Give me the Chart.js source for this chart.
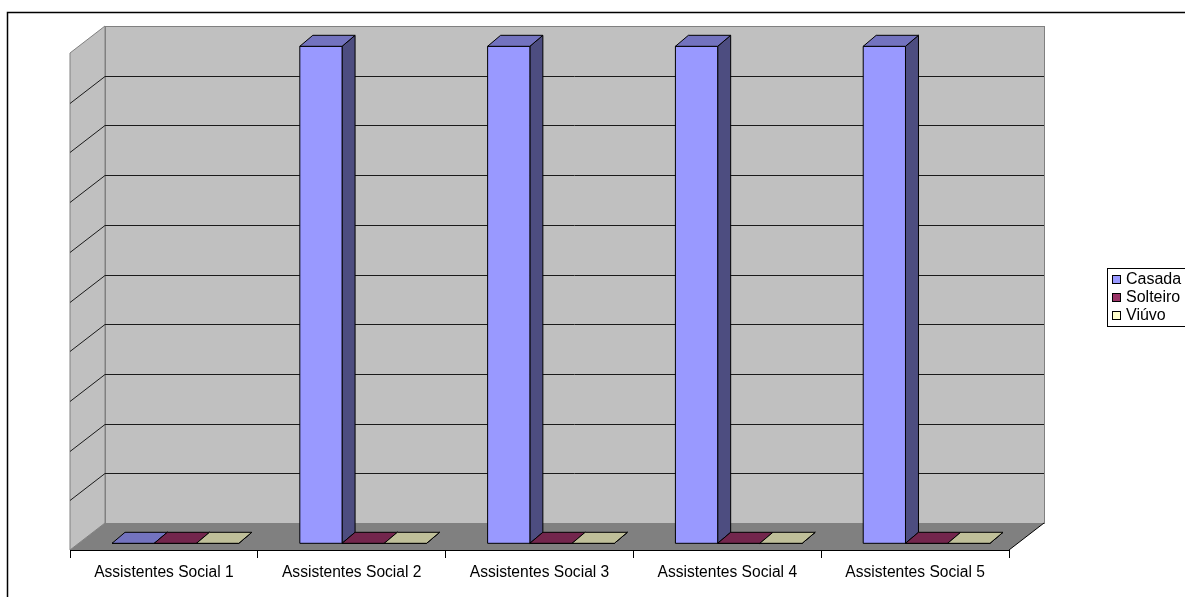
<!DOCTYPE html>
<html>
<head>
<meta charset="utf-8">
<script src="https://cdn.jsdelivr.net/npm/chart.js@4/dist/chart.umd.min.js"></script>
<style>
  body { margin: 0; background: #fff; }
  canvas { display: block; }
</style>
</head>
<body>
<canvas id="estadoCivil" width="1185" height="597"></canvas>
<script>
// data
const categorias = ["Assistentes Social 1", "Assistentes Social 2", "Assistentes Social 3", "Assistentes Social 4", "Assistentes Social 5"];
const casada = [0, 1, 1, 1, 1];
const solteiro = [0, 0, 0, 0, 0];
const viuvo = [0, 0, 0, 0, 0];
const yMax = 1;
const yStep = 0.1;

// cores: frente, topo, lado
const cores = {
  Casada: ["#9999FF", "#7373BF", "#4D4D80"],
  Solteiro: ["#993366", "#73264D", "#4D1933"],
  "Viúvo": ["#FFFFCC", "#BFBF99", "#80806A"]
};

const FONT = "'Liberation Sans', Arial, sans-serif";
const depthX = 35, depthY = 27;     // profundidade da parede
const barOffX = 11.5, barOffY = 6.7; // frente da barra
const barDX = 13, barDY = 11;        // profundidade da barra

const walls = {
  id: 'walls',
  beforeDraw(chart) {
    const ctx = chart.ctx;
    const a = chart.chartArea;
    const ys = chart.scales.y;
    const L = a.left, R = a.right, T = a.top, B = a.bottom;
    ctx.save();
    ctx.fillStyle = '#fff';
    ctx.fillRect(0, 0, chart.width, chart.height);
    ctx.strokeStyle = '#000';
    ctx.lineWidth = 1.5;
    ctx.strokeRect(7.5, 12.5, 1300, 700);

    ctx.lineWidth = 1;
    // parede esquerda
    ctx.beginPath();
    ctx.moveTo(L, T); ctx.lineTo(L + depthX, T - depthY);
    ctx.lineTo(L + depthX, B - depthY); ctx.lineTo(L, B); ctx.closePath();
    ctx.fillStyle = '#C0C0C0'; ctx.fill();
    ctx.strokeStyle = '#808080'; ctx.stroke();
    // parede do fundo
    ctx.fillRect(L + depthX, T - depthY, R - L, B - T);
    ctx.strokeRect(L + depthX + 0.5, T - depthY + 0.5, R - L, B - T);
    // chao
    ctx.beginPath();
    ctx.moveTo(L, B); ctx.lineTo(R, B);
    ctx.lineTo(R + depthX, B - depthY); ctx.lineTo(L + depthX, B - depthY); ctx.closePath();
    ctx.fillStyle = '#808080'; ctx.fill();
    ctx.strokeStyle = '#000';
    ctx.beginPath();
    ctx.moveTo(R, B); ctx.lineTo(R + depthX, B - depthY);
    ctx.stroke();

    // linhas de grade
    for (let v = yStep; v < yMax - 1e-6; v += yStep) {
      const y = Math.round(ys.getPixelForValue(v)) + 0.5;
      ctx.strokeStyle = '#1a1a1a';
      ctx.beginPath();
      ctx.moveTo(L, y); ctx.lineTo(L + depthX, y - depthY);
      ctx.lineTo(R + depthX, y - depthY);
      ctx.stroke();
    }
    ctx.restore();
  },
  afterDatasetsDraw(chart) {
    const ctx = chart.ctx;
    ctx.save();
    ctx.lineWidth = 1;
    ctx.strokeStyle = '#000';
    ctx.lineJoin = 'round';
    chart.data.datasets.forEach(function(ds, i) {
      const c = cores[ds.label];
      chart.getDatasetMeta(i).data.forEach(function(el) {
        const x0 = el.x - el.width / 2 + barOffX;
        const x1 = el.x + el.width / 2 + barOffX;
        const top = el.y - barOffY;
        const bot = el.base - barOffY;
        // lado
        ctx.beginPath();
        ctx.moveTo(x1, top); ctx.lineTo(x1 + barDX, top - barDY);
        ctx.lineTo(x1 + barDX, bot - barDY); ctx.lineTo(x1, bot); ctx.closePath();
        ctx.fillStyle = c[2]; ctx.fill(); ctx.stroke();
        // frente
        ctx.beginPath();
        ctx.rect(x0, top, x1 - x0, bot - top);
        ctx.fillStyle = c[0]; ctx.fill(); ctx.stroke();
        // topo
        ctx.beginPath();
        ctx.moveTo(x0, top); ctx.lineTo(x0 + barDX, top - barDY);
        ctx.lineTo(x1 + barDX, top - barDY); ctx.lineTo(x1, top); ctx.closePath();
        ctx.fillStyle = c[1]; ctx.fill(); ctx.stroke();
      });
    });
    ctx.restore();
  },
  afterDraw(chart) {
    // legenda
    const ctx = chart.ctx;
    ctx.save();
    ctx.strokeStyle = '#000';
    ctx.lineWidth = 1;
    ctx.fillStyle = '#fff';
    ctx.fillRect(1107.5, 268.5, 100, 58);
    ctx.strokeRect(1107.5, 268.5, 100, 58);
    ctx.font = '16px ' + FONT;
    ctx.textBaseline = 'middle';
    chart.data.datasets.forEach(function(ds, i) {
      const y = 280 + i * 18;
      ctx.fillStyle = cores[ds.label][0];
      ctx.fillRect(1112.5, y - 4.5, 8, 8);
      ctx.strokeRect(1112.5, y - 4.5, 8, 8);
      ctx.fillStyle = '#000';
      ctx.fillText(ds.label, 1126, y);
    });
    ctx.restore();
  }
};

const estadoCivil = document.getElementById('estadoCivil');
var myChart = new Chart(estadoCivil, {
  type: 'bar',
  data: {
    labels: categorias,
    datasets: [
      { label: "Casada", data: casada, backgroundColor: "rgba(0,0,0,0)" },
      { label: "Solteiro", data: solteiro, backgroundColor: "rgba(0,0,0,0)" },
      { label: "Viúvo", data: viuvo, backgroundColor: "rgba(0,0,0,0)" }
    ]
  },
  options: {
    responsive: false,
    animation: false,
    devicePixelRatio: 1,
    categoryPercentage: 0.675,
    barPercentage: 1,
    layout: { padding: { left: 70, right: 176, top: 53, bottom: 0 } },
    plugins: { legend: { display: false }, tooltip: { enabled: false } },
    scales: {
      y: { display: false, min: 0, max: yMax, ticks: { stepSize: yStep } },
      x: {
        afterFit: function(scale) { scale.height = 47; },
        grid: { offset: true, drawOnChartArea: false, drawTicks: true, tickLength: 8, color: '#000' },
        border: { display: true, color: '#000', width: 1 },
        ticks: { color: '#000', font: { family: FONT, size: 15.6 }, padding: 5, maxRotation: 0, autoSkip: false }
      }
    }
  },
  plugins: [walls]
});
</script>
</body>
</html>
